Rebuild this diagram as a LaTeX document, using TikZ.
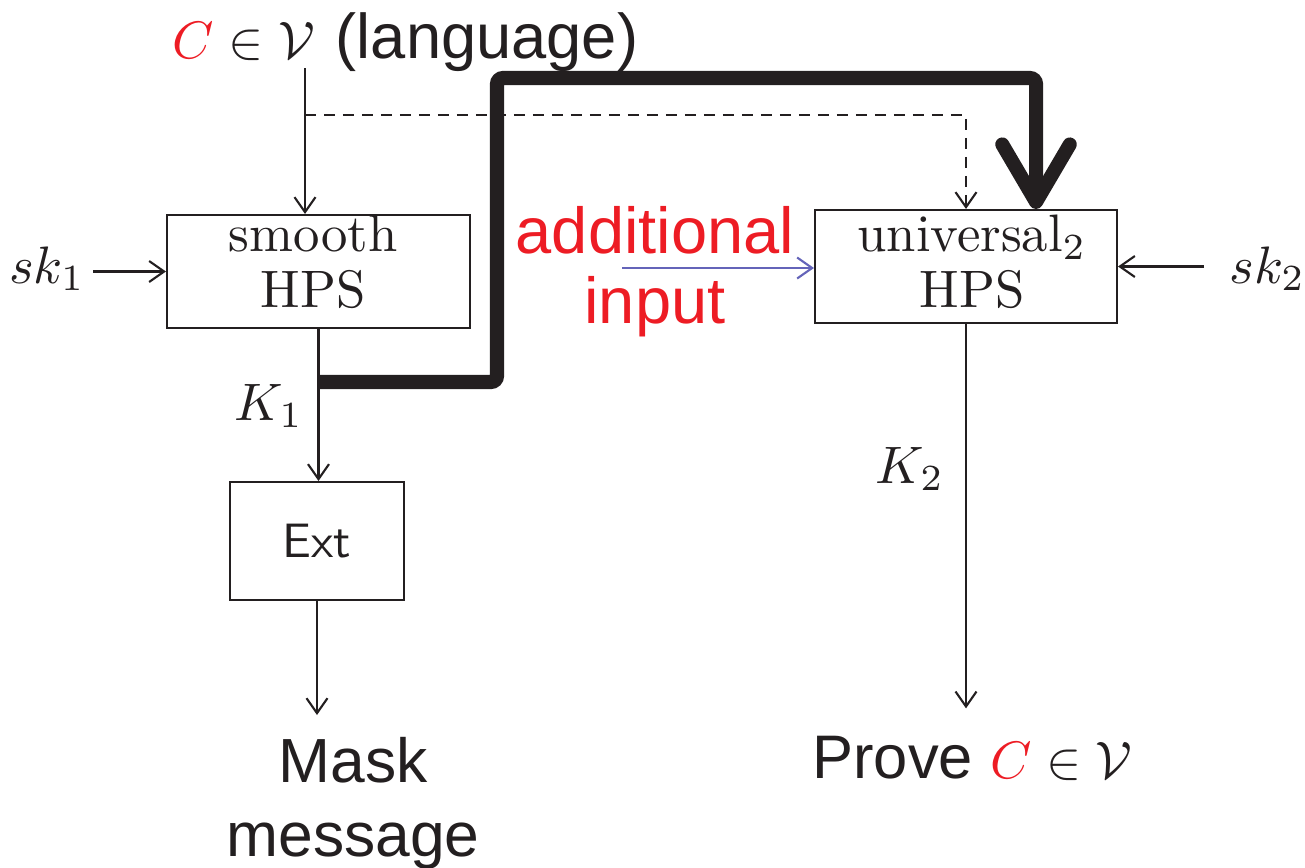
\RequirePackage{fix-cm}
\documentclass[tikz,border=0pt]{standalone}
\usepackage{fontspec}
\newfontfamily\arial{Liberation Sans}
\usetikzlibrary{arrows.meta,calc}
\definecolor{ared}{RGB}{237,28,36}
\definecolor{ablue}{RGB}{100,100,185}
\definecolor{ink}{RGB}{35,31,32}
\newcommand\cmbig[1]{\scalebox{3}{\fontsize{10}{12}\selectfont #1}}
\begin{document}
\begin{tikzpicture}[x=0.02cm,y=-0.02cm,
  thinarr/.style={draw=ink,line width=1.2pt,-{Straight Barb[length=0.3cm,width=0.42cm]}},
  box/.style={draw=ink,line width=1.2pt,inner sep=0},
  lmtxt/.style={text=ink,inner sep=0},
  atxt/.style={font=\arial\fontsize{37}{40}\selectfont,text=ink,inner sep=0},
  thickarr/.style={draw=ink,line width=8pt,rounded corners=0.12cm,-{Straight Barb[length=1.15cm,width=1.35cm,line cap=round,round]}},
]
\useasboundingbox (0,0) rectangle (1305,867);

% boxes
\node[box,minimum width=6.06cm,minimum height=2.26cm] (smooth) at (318.5,271.5) {};
\node[lmtxt] (smootht) at (313,267) {\cmbig{\begin{tabular}{@{}c@{}}smooth\\[-1.3pt]HPS\end{tabular}}};
\node[box,minimum width=6.04cm,minimum height=2.26cm] (univ) at (966,266.5) {};
\node[lmtxt] (univt) at (972,267) {\cmbig{\begin{tabular}{@{}c@{}}universal$_2$\\[-1.3pt]HPS\end{tabular}}};
\node[box,minimum width=3.48cm,minimum height=2.36cm,text=ink] (ext) at (317,541) {\scalebox{2.75}{\sffamily\fontsize{10}{12}\selectfont Ext}};

% labels
\node[anchor=base west,inner sep=0,text=ink] (lang) at (172,58) {\cmbig{$\textcolor{ared}{C}\in\mathcal{V}$}\hspace{0.42cm}{\arial\fontsize{36}{40}\selectfont(language)}};
\node[atxt,text=ared,align=center] (addl) at (655,272) {additional\\input};
\node[lmtxt,anchor=base] (sk1) at (47,283) {\cmbig{$sk_1$}};
\node[lmtxt,anchor=base west] (sk2) at (1229,283) {\cmbig{$sk_2$}};
\node[lmtxt,anchor=base] (k1) at (269,420) {\cmbig{$K_1$}};
\node[lmtxt,anchor=base] (k2) at (910,483) {\cmbig{$K_2$}};
\node[atxt,font=\arial\fontsize{35}{40}\selectfont,anchor=base west,inner ysep=0.54cm] (prove) at (812,778) {Prove \cmbig{$\textcolor{ared}{C}\in\mathcal{V}$}};
\node[atxt,font=\arial\fontsize{35.5}{42}\selectfont,align=center,anchor=north,inner ysep=0.44cm] (mask) at (353,715) {Mask\\message};

% coordinates
\coordinate (cin) at (305,68);
\coordinate (dst) at (305,115);
\coordinate (tk) at (318,382);
\coordinate (addin) at (622,268);

% connectors
\draw[thinarr] (cin) -- (cin |- smooth.north);
\draw[thinarr,dash pattern=on 0.22cm off 0.16cm] (dst) -| (univ.north);
\draw[thickarr] (tk) -- (497,382) -- (497,78) -| ($(univ.north east)+(-82,0)$);
\draw[thinarr,draw=ablue] (addin) -- (addin -| univ.west);
\draw[thinarr,shorten <=0.16cm] (sk1.east |- smooth.west) -- (smooth.west);
\draw[thinarr,shorten <=0.5cm] (sk2.west |- univ.east) -- (univ.east);
\draw[thinarr] (smooth.south) -- (smooth.south |- ext.north);
\draw[thinarr] (ext.south) -- (ext.south |- mask.north);
\draw[thinarr] (univ.south) -- (univ.south |- prove.north);
\end{tikzpicture}
\end{document}
